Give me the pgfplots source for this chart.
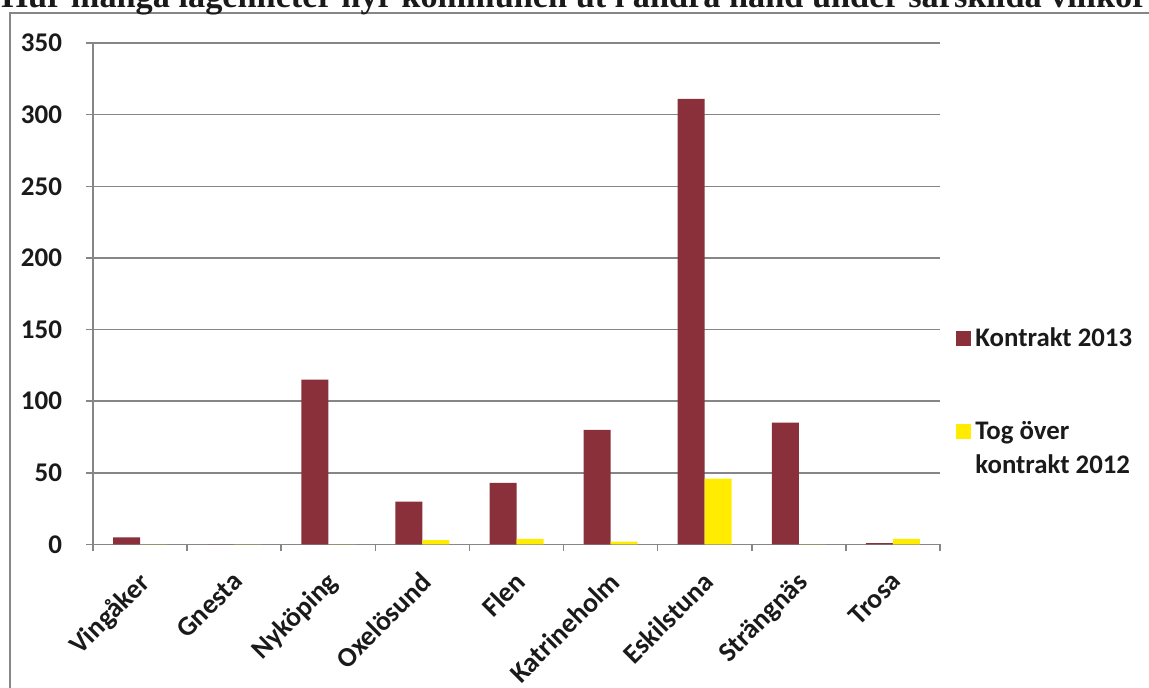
\documentclass[border=0pt]{standalone}
\usepackage{pgfplots}
\pgfplotsset{compat=1.18}
\usepackage{fontspec}
\setmainfont{Carlito}
\newfontfamily\titlefont{Liberation Serif}
\definecolor{kontrakt}{RGB}{137,48,59}
\definecolor{tog}{RGB}{255,236,0}
\definecolor{gridgray}{RGB}{134,134,134}
\definecolor{txt}{RGB}{26,26,26}
% legend squares: one centred on the entry, one raised to the first text line
\pgfplotsset{
  square legend/.style={legend image code/.code={\fill[##1] (0pt,-3.75pt) rectangle (7.5pt,3.75pt);}},
  raised square legend/.style={legend image code/.code={\fill[##1] (0pt,4.9pt) rectangle (7.5pt,12.4pt);}},
}

\begin{document}
\begin{tikzpicture}
\useasboundingbox (0pt,0pt) rectangle (574.5pt,344pt);
\clip (0pt,0pt) rectangle (574.5pt,344pt);
% outer chart frame
\draw[gridgray, line width=0.75pt] (5pt,-20pt) rectangle (600pt,337.5pt);
% title
\node[anchor=base west, inner sep=0pt, text=txt] at (0.5pt,340pt)
  {\resizebox{573pt}{!}{\titlefont\bfseries Hur många lägenheter hyr kommunen ut i andra hand under särskilda villkor}};

\begin{axis}[
  at={(46.5pt,71.75pt)}, anchor=south west,
  scale only axis, width=423.5pt, height=250.75pt,
  ybar=0pt, bar width=13.5pt,
  xmin=-0.5, xmax=8.5, ymin=0, ymax=350,
  ytick={0,50,...,350},
  xtick={-0.5,0.5,...,8.5}, xticklabels={},
  extra x ticks={0,1,2,3,4,5,6,7,8},
  extra x tick labels={Vingåker,Gnesta,Nyköping,Oxelösund,Flen,Katrineholm,Eskilstuna,Strängnäs,Trosa},
  extra x tick style={major tick length=0pt, grid=none},
  axis x line*=bottom, axis y line*=left,
  axis line style={gridgray, line width=0.75pt, -},
  tick align=outside, major tick length=3.5pt,
  tick style={gridgray, line width=0.75pt},
  ymajorgrids, grid style={gridgray, line width=0.75pt},
  /pgf/number format/assume math mode=true,
  yticklabel style={font=\bfseries\fontsize{13.5}{15}\selectfont, text=txt, xshift=-8.5pt},
  xticklabel shift=8pt,
  xticklabel style={font=\bfseries\fontsize{13.8}{15}\selectfont, text=txt, xshift=-1.5pt, rotate=45, anchor=north east},
  legend style={draw=none, fill=none, at={(axis description cs:1.019,0.441)}, anchor=north west,
    inner sep=0pt, font=\bfseries\fontsize{13.4}{17}\selectfont, text=txt,
    cells={align=left}, row sep=32pt},
  legend cell align=left,
]
\addplot[fill=kontrakt, draw=none, square legend]
  coordinates {(0,5) (1,0) (2,115) (3,30) (4,43) (5,80) (6,311) (7,85) (8,1)};
\addplot[fill=tog, draw=none, raised square legend]
  coordinates {(0,0) (1,0) (2,0) (3,3) (4,4) (5,2) (6,46) (7,0) (8,4)};
\legend{Kontrakt 2013, {Tog över\\kontrakt 2012}}
\end{axis}
\end{tikzpicture}
\end{document}
